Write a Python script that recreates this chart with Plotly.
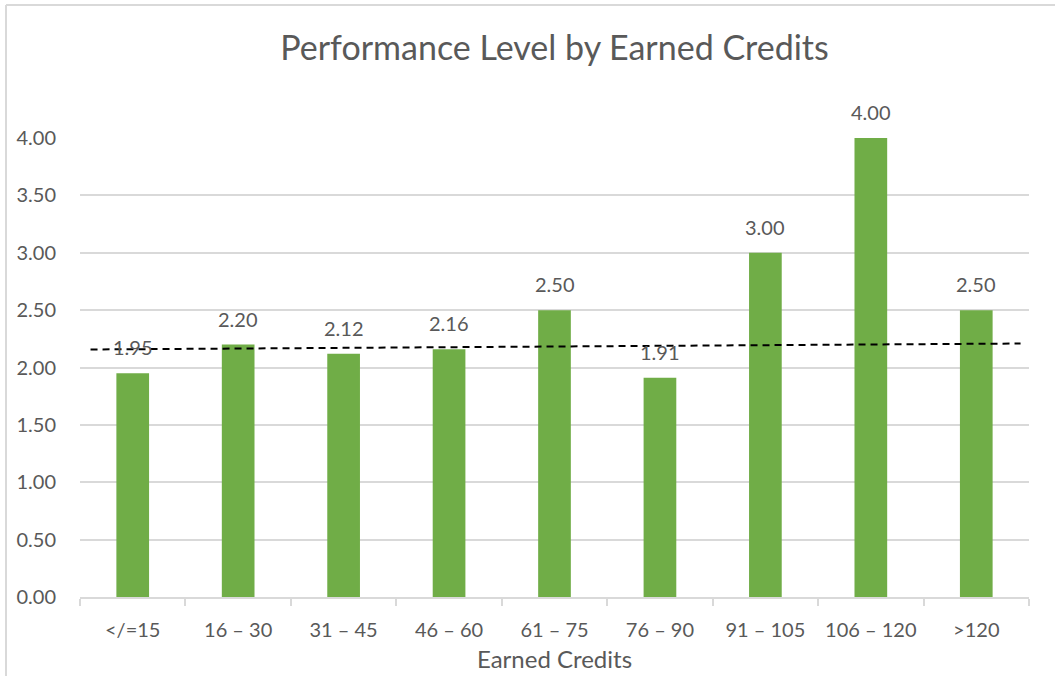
import plotly.graph_objects as go

categories = ["</=15", "16 – 30", "31 – 45", "46 – 60", "61 – 75", "76 – 90", "91 – 105", "106 – 120", ">120"]
values = [1.95, 2.20, 2.12, 2.16, 2.50, 1.91, 3.00, 4.00, 2.50]
trend_x = [-0.4, 8.42]
trend_y = [2.157, 2.209]
y_ticks = [0, 0.5, 1.0, 1.5, 2.0, 2.5, 3.0, 3.5, 4.0]

W, H = 1055, 676
ML, MR, MT, MB = 80, 26, 138, 79
FONT = "Lato"
TXT = "#595959"
GRID = "#D9D9D9"

fig = go.Figure()
fig.add_trace(go.Bar(
    x=categories, y=values,
    marker=dict(color="#70AD47", line=dict(width=0)),
    width=0.31,
    showlegend=False,
))
fig.add_trace(go.Scatter(
    x=trend_x, y=trend_y, xaxis="x2", mode="lines",
    line=dict(color="black", width=2, dash="7px,5px"),
    showlegend=False, hoverinfo="skip",
))

annotations = [
    dict(x=c, y=v, xref="x", yref="y", text=f"{v:.2f}", showarrow=False,
         yanchor="bottom", xanchor="center", yshift=12,
         font=dict(family=FONT, size=20, color=TXT))
    for c, v in zip(categories, values)
]

pw = W - ML - MR
ph = H - MT - MB
def px_x(p):
    return (p - ML) / pw
def px_y(p):
    return (H - MB - p) / ph

fig.update_layout(
    width=W, height=H,
    margin=dict(l=ML, r=MR, t=MT, b=MB, autoexpand=False),
    paper_bgcolor="white", plot_bgcolor="white",
    title=dict(text="Performance Level by Earned Credits", x=0.5, xref="paper", xanchor="center",
               y=1 - 48 / H, yanchor="middle",
               font=dict(family=FONT, size=34, color=TXT)),
    xaxis=dict(type="category", tickson="boundaries", ticks="outside", ticklen=7,
               tickcolor=GRID, tickwidth=1.5, showline=True, linecolor=GRID, linewidth=1.5,
               showgrid=False, tickfont=dict(family=FONT, size=20, color=TXT),
               ticklabelstandoff=14, automargin=False,
               title=dict(text="Earned Credits", font=dict(family=FONT, size=24, color=TXT), standoff=11),
               range=[-0.5, 8.5]),
    xaxis2=dict(overlaying="x", range=[-0.5, 8.5], visible=False),
    yaxis=dict(range=[0, 4], tickvals=y_ticks, tickformat=".2f", showgrid=True,
               gridcolor=GRID, gridwidth=1.5, zeroline=False, showline=False, automargin=False,
               tickfont=dict(family=FONT, size=20, color=TXT), ticklabelstandoff=23),
    annotations=annotations,
    shapes=[
        dict(type="line", xref="paper", yref="paper", x0=px_x(6), x1=px_x(6), y0=px_y(5), y1=px_y(H + 5),
             line=dict(color=GRID, width=2)),
        dict(type="line", xref="paper", yref="paper", x0=px_x(6), x1=px_x(W + 5), y0=px_y(5), y1=px_y(5),
             line=dict(color=GRID, width=2)),
    ],
)

fig.write_html("out.html", config={"displayModeBar": False},
               post_script="document.body.style.margin='0';")
